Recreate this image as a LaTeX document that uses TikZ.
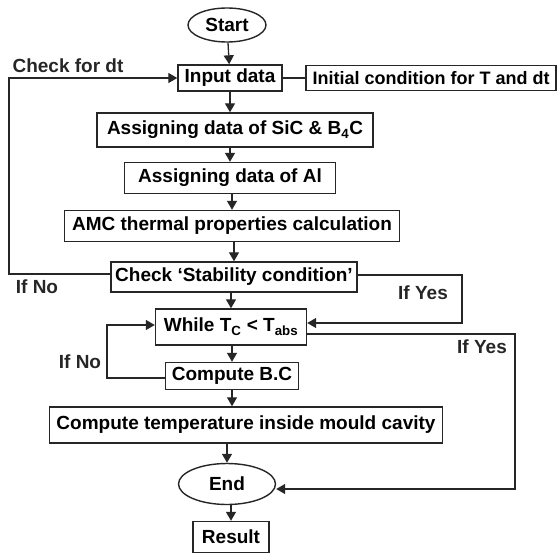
\documentclass[tikz,border=0pt]{standalone}
\usepackage{fontspec}
\setmainfont{Liberation Sans}
\usepackage{tikz}
\usetikzlibrary{arrows.meta,shapes.geometric}

\tikzset{
  box/.style={draw=black!85, line width=1.4pt, minimum height=28pt, inner sep=1pt, font=\fontsize{19}{21}\selectfont\bfseries},
  term/.style={ellipse, draw=black!85, line width=1.4pt, inner sep=0pt, font=\fontsize{19}{21}\selectfont\bfseries},
  arr/.style={draw=black!85, line width=1.3pt, -{Triangle[length=9pt,width=10pt]}},
  lbl/.style={font=\fontsize{19}{21}\selectfont\bfseries, text=black!85}
}

\begin{document}
\begin{tikzpicture}[x=1pt,y=-1pt]
    \useasboundingbox (0,0) rectangle (559,554);
    % Main column
    \node[term, minimum width=78pt, minimum height=34pt] (start) at (227,25) {Start};
    \node[box, minimum width=104pt, minimum height=26pt] (input) at (230,78) {Input data};
    \node[box, minimum width=250pt, minimum height=25pt, font=\fontsize{18}{20}\selectfont\bfseries] (init) at (431,78) {Initial condition for T and dt};
    \node[box, minimum width=276pt, minimum height=34pt] (sic) at (235,130) {Assigning data of SiC \& B\textsubscript{4}C};
    \node[box, minimum width=211pt, minimum height=31pt] (al) at (230,178) {Assigning data of Al};
    \node[box, minimum width=335pt, minimum height=31pt] (amc) at (232,226) {AMC thermal properties calculation};
    \node[box, minimum width=246pt, minimum height=30pt] (check) at (234,277) {Check `Stability condition'};
    \node[box, minimum width=151pt, minimum height=36pt] (while) at (231,327) {While T\textsubscript{C} < T\textsubscript{abs}};
    \node[box, minimum width=133pt, minimum height=27pt] (bc) at (232,376) {Compute B.C};
    \node[box, minimum width=393pt, minimum height=36pt] (temp) at (246,425) {Compute temperature inside mould cavity};
    \node[term, minimum width=97pt, minimum height=41pt] (end) at (227,484) {End};
    \node[box, minimum width=76pt, minimum height=31pt] (result) at (231,537) {Result};
    % Straight arrows down the column
    \draw[arr] (start) -- (input);
    \draw[arr] (input) -- (input |- sic.north);
    \draw[arr] (sic.south -| al) -- (al);
    \draw[arr] (al.south -| amc) -- (amc);
    \draw[arr] (amc.south -| check) -- (check);
    \draw[arr] (check.south -| while) -- (while);
    \draw[arr] (while.south -| bc) -- (bc);
    \draw[arr] (bc.south) -- (bc.south |- temp.north);
    \draw[arr] (temp.south -| end) -- (end);
    \draw[arr] (end.south -| result) -- (result);
    \draw[draw=black!85, line width=1.3pt] (input) -- (init);
    % Loops
    \draw[arr] ([yshift=3pt]check.west) -- (9,274) |- (input.west);
    \draw[arr] ([yshift=2pt]check.east) -- (462,275) |- ([yshift=4pt]while.east);
    \draw[arr] ([yshift=-7pt]while.east) -- (515,334) |- ([yshift=-5pt]end.east);
    \draw[arr] ([yshift=-2pt]bc.west) -- (107,378) |- ([yshift=2pt]while.west);
    % Labels
    \node[lbl] (dtlbl) at (68,66) {Check for dt};
    \node[lbl] (nolbl) at (37,287) {If No};
    \node[lbl] (yeslbl) at (423,293) {If Yes};
    \node[lbl] (yesend) at (482,347) {If Yes};
    \node[lbl] (nobc) at (80,362) {If No};
\end{tikzpicture}
\end{document}
